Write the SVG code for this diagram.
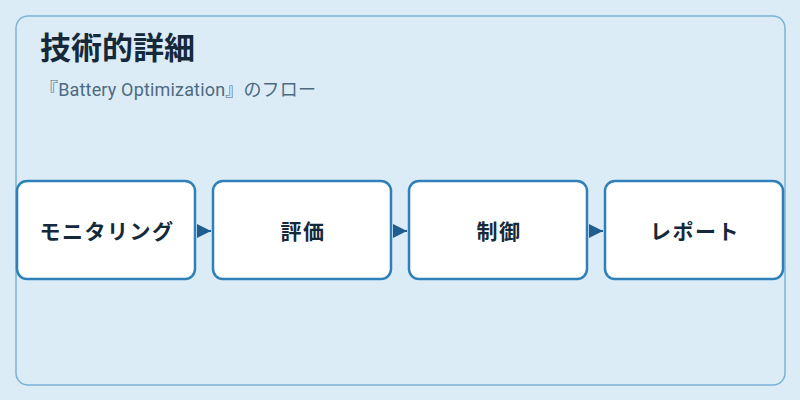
<svg xmlns="http://www.w3.org/2000/svg" width="800" height="400" viewBox="0 0 800 400">
<defs>
<style>
.frame{fill:#dcecf7;stroke:#7ab2d6;stroke-width:1.5}
.node rect{fill:#ffffff;stroke:#2f80b8;stroke-width:2.5}
.node text{font-family:"Noto Sans CJK JP","Noto Sans",sans-serif;font-size:21px;font-weight:700;letter-spacing:1.5px;fill:#15293a;text-anchor:middle}
.title{font-family:"Noto Sans CJK JP","Noto Sans",sans-serif;font-size:31px;font-weight:700;fill:#15293a}
.sub{font-family:Roboto,"Noto Sans CJK JP",sans-serif;font-size:18px;letter-spacing:0.17px;fill:#4d6a80}
.conn line{stroke:#1f5f8f;stroke-width:2}
</style>
<marker id="ah" viewBox="0 0 10 10" refX="10" refY="5" markerWidth="14" markerHeight="14" markerUnits="userSpaceOnUse" orient="auto">
<path d="M0,0 L10,5 L0,10 Z" fill="#1f5f8f"/>
</marker>
</defs>
<rect width="800" height="400" fill="#dcecf7"/>
<rect class="frame" x="16" y="16" width="769" height="369" rx="12"/>
<text class="title" x="40" y="59">技術的詳細</text>
<text class="sub" x="40" y="96">『Battery Optimization』のフロー</text>
<g id="connectors" class="conn">
<line x1="197" y1="231" x2="211" y2="231" marker-end="url(#ah)"/>
<line x1="393" y1="231" x2="407" y2="231" marker-end="url(#ah)"/>
<line x1="589" y1="231" x2="603" y2="231" marker-end="url(#ah)"/>
</g>
<g id="node1" class="node"><rect x="17" y="181" width="178" height="98" rx="10"/><text x="107" y="239">モニタリング</text></g>
<g id="node2" class="node"><rect x="213" y="181" width="178" height="98" rx="10"/><text x="303" y="239">評価</text></g>
<g id="node3" class="node"><rect x="409" y="181" width="178" height="98" rx="10"/><text x="499" y="239">制御</text></g>
<g id="node4" class="node"><rect x="605" y="181" width="178" height="98" rx="10"/><text x="695" y="239">レポート</text></g>
</svg>
